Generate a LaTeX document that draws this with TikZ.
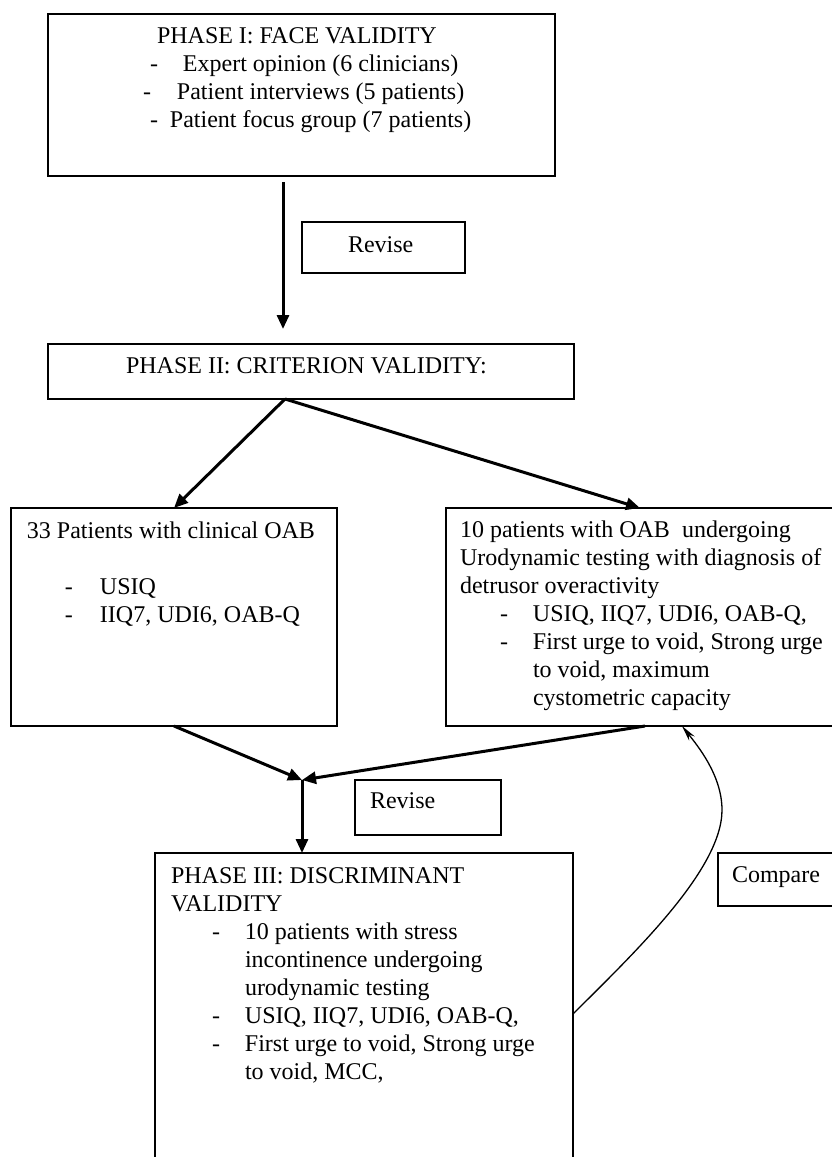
\documentclass[tikz,border=0pt]{standalone}
\usepackage{fontspec}
\setmainfont{Liberation Serif}
\usetikzlibrary{arrows.meta}
\newcommand\diafont{\fontsize{24}{28}\selectfont}
\tikzset{
  bx/.style={draw, line width=1.8pt, inner sep=0pt, outer sep=0pt, anchor=north west},
  tx/.style={inner sep=0pt, outer sep=0pt, anchor=north west, align=left, font=\diafont},
  thk/.style={line width=3pt, -{Triangle[length=14pt,width=12pt]}},
  thn/.style={line width=1.3pt, -{Stealth[length=16pt,width=7pt]}}
}
\begin{document}
\begin{tikzpicture}[x=1pt,y=-1pt]
\useasboundingbox (0,0) rectangle (832,1157);
\clip (0,0) rectangle (832,1157);
\fill[white] (0,0) rectangle (832,1157);

% boxes
\node[bx, minimum width=507pt, minimum height=162pt] (b1) at (48,14) {};
\node[bx, minimum width=163pt, minimum height=51pt] (rv1) at (302,222) {};
\node[bx, minimum width=526pt, minimum height=55pt] (p2) at (48,344) {};
\node[bx, minimum width=326pt, minimum height=218pt] (lb) at (11,508) {};
\node[bx, minimum width=394pt, minimum height=218pt] (rb) at (446,508) {};
\node[bx, minimum width=146pt, minimum height=55pt] (rv2) at (355,780) {};
\node[bx, minimum width=418pt, minimum height=317pt] (p3) at (155,853) {};
\node[bx, minimum width=122pt, minimum height=53pt] (cmp) at (718,853) {};

% texts
\node[tx] (t1) at (143,23.4) {\strut\hspace*{14pt}PHASE I: FACE VALIDITY\\
\hspace*{7pt}\makebox[33pt][l]{-}Expert opinion (6 clinicians)\\
\makebox[34pt][l]{-}Patient interviews (5 patients)\\
\hspace*{7pt}\makebox[20pt][l]{-}Patient focus group (7 patients)};
\node[tx] (trv1) at (348,232.4) {\strut Revise};
\node[tx] (t2) at (126,353.4) {\strut PHASE II: CRITERION VALIDITY:};
\node[tx] (tl) at (27,518.4) {\strut 33 Patients with clinical OAB\\
\strut\\
\hspace*{38pt}\makebox[35pt][l]{-}USIQ\\
\hspace*{38pt}\makebox[35pt][l]{-}IIQ7, UDI6, OAB-Q};
\node[tx] (tr) at (460,517.4) {\strut 10 patients with OAB\ \ undergoing\\
Urodynamic testing with diagnosis of\\
detrusor overactivity\\
\hspace*{40pt}\makebox[33pt][l]{-}USIQ, IIQ7, UDI6, OAB-Q,\\
\hspace*{40pt}\makebox[33pt][l]{-}First urge to void, Strong urge\\
\hspace*{73pt}to void, maximum\\
\hspace*{73pt}cystometric capacity};
\node[tx] (trv2) at (370,788.4) {\strut Revise};
\node[tx] (t3) at (171,863.4) {\strut PHASE III: DISCRIMINANT\\
VALIDITY\\
\hspace*{41pt}\makebox[33pt][l]{-}10 patients with stress\\
\hspace*{74pt}incontinence undergoing\\
\hspace*{74pt}urodynamic testing\\
\hspace*{41pt}\makebox[33pt][l]{-}USIQ, IIQ7, UDI6, OAB-Q,\\
\hspace*{41pt}\makebox[33pt][l]{-}First urge to void, Strong urge\\
\hspace*{74pt}to void, MCC,};
\node[tx] (tcmp) at (732,862.4) {\strut Compare};

% connectors
\coordinate (m) at (302,780);
\draw[thk] ([xshift=-18.5pt,yshift=-6pt]b1.south) -- ([xshift=-28pt,yshift=15pt]p2.north);
\draw[thk] ([xshift=-26pt]p2.south) -- (lb.north);
\draw[thk] ([xshift=-26pt]p2.south) -- ([xshift=-3pt]rb.north);
\draw[thk] (lb.south) -- (m);
\draw[thk] ([xshift=2pt]rb.south) -- (m);
\draw[thk] (m) -- (m |- p3.north);
\draw[thn] ([yshift=-2.5pt]p3.east) .. controls (633,954) and (722,870) .. (722,810)
  .. controls (722,775) and (697,745) .. ([xshift=39pt]rb.south);
\end{tikzpicture}
\end{document}
